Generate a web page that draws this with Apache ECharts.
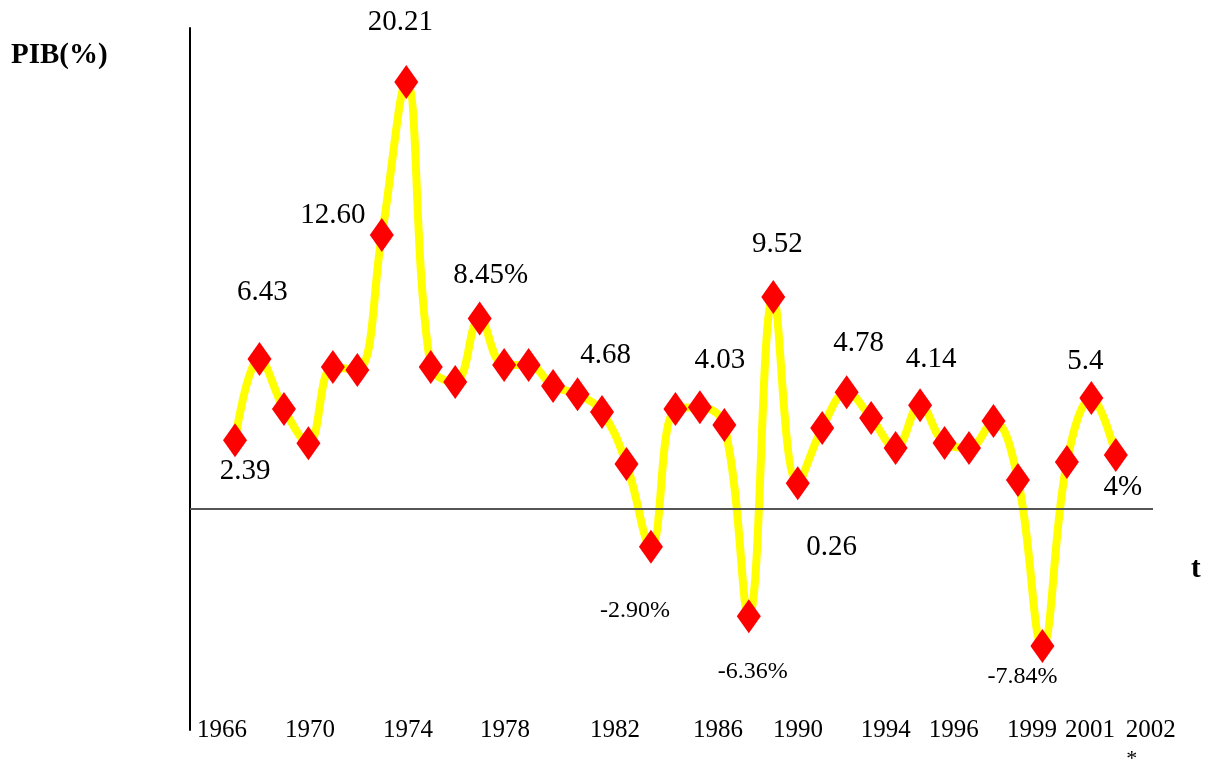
<!DOCTYPE html>
<html>
<head>
<meta charset="utf-8">
<script src="https://cdn.jsdelivr.net/npm/echarts@6/dist/echarts.min.js"></script>
<style>
html, body { margin: 0; padding: 0; background: #fff; }
#main { width: 1218px; height: 762px; }
</style>
</head>
<body>
<div id="main"></div>
<script>
// croissance du PIB (%) par année
var years = [1966,1967,1968,1969,1970,1971,1972,1973,1974,1975,1976,1977,1978,1979,1980,1981,1982,1983,1984,1985,1986,1987,1988,1989,1990,1991,1992,1993,1994,1995,1996,1997,1998,1999,2000,2001,2002];
var pib = [2.39,6.43,3.95,2.25,6.04,5.89,12.60,20.21,6.04,5.29,8.45,6.14,6.14,5.09,4.68,3.80,1.21,-2.90,3.95,4.03,3.15,-6.36,9.52,0.26,3.00,4.78,3.50,2.01,4.14,2.26,2.01,3.35,0.42,-7.84,1.31,4.50,1.66];
// étiquettes affichées sur certains points (index -> texte)
var pointLabels = {0:'2.39',1:'6.43',6:'12.60',7:'20.21',10:'8.45%',14:'4.68',17:'-2.90%',19:'4.03',21:'-6.36%',22:'9.52',23:'0.26',25:'4.78',28:'4.14',33:'-7.84%',35:'5.4',36:'4%'};
var axisYears = ['1966','1970','1974','1978','1982','1986','1990','1994','1996','1999','2001','2002'];

var serif = "'Times New Roman', 'Liberation Serif', serif";

// décalages des étiquettes par rapport au losange
var labelOffset = {0:[10,31],1:[3,-67],6:[-49,-20],7:[-6,-60],10:[11,-43],14:[28,-39],17:[-16,64],19:[20,-47],21:[4,55],22:[4,-53],23:[34,64],25:[12,-49],28:[11,-46],33:[-20,31],35:[-6,-37],36:[7,32]};
// position des années sous l'axe (placées à la main dans l'original)
var axisYearPos = [1965.47,1969.06,1973.07,1977.03,1981.53,1985.74,1989.01,1992.6,1995.38,1998.57,2000.94,2003.43];

var seriesData = years.map(function (y, i) {
	var item = { value: [y, pib[i]] };
	if (pointLabels[i] !== undefined) {
		var neg = pib[i] < 0;
		item.label = {
			show: true,
			position: 'inside',
			offset: labelOffset[i],
			formatter: pointLabels[i],
			fontFamily: serif,
			fontSize: neg ? 24 : 29,
			color: '#000'
		};
	}
	return item;
});

var option = {
	animation: false,
	backgroundColor: '#fff',
	title: [
		{
			text: 'PIB(%)',
			left: 11,
			top: 41,
			padding: 0,
			textStyle: { fontFamily: serif, fontWeight: 'bold', fontSize: 29, color: '#000' }
		},
		{
			text: 't',
			left: 1191,
			top: 555,
			padding: 0,
			textStyle: { fontFamily: serif, fontWeight: 'bold', fontSize: 29, color: '#000' }
		}
	],
	grid: { left: 190, right: 65, top: 28, bottom: 32, outerBoundsMode: 'none', containLabel: false },
	xAxis: {
		type: 'value',
		min: 1964.16,
		max: 2003.52,
		axisLine: { show: false },
		axisTick: { show: false },
		splitLine: { show: false },
		axisLabel: {
			customValues: axisYearPos,
			margin: -13,
			fontFamily: serif,
			fontSize: 25,
			color: '#000',
			lineHeight: 27,
			formatter: function (v) {
				var k = axisYearPos.indexOf(v);
				if (k < 0) return '';
				return axisYears[k] === '2002' ? '{y|2002}\n{s|*}' : axisYears[k];
			},
			rich: {
				y: { fontFamily: serif, fontSize: 25, lineHeight: 27, color: '#000' },
				s: { fontFamily: serif, fontSize: 22, lineHeight: 30, color: '#000', padding: [0, 38, 0, 0] }
			}
		}
	},
	yAxis: {
		type: 'value',
		min: -12.02,
		max: 22.9,
		axisLine: { show: true, lineStyle: { color: '#000', width: 2 } },
		axisTick: { show: false },
		axisLabel: { show: false },
		splitLine: { show: false }
	},
	series: [
		{
			type: 'line',
			data: seriesData,
			smooth: 0.4,
			symbol: 'diamond',
			symbolSize: [24, 34],
			itemStyle: { color: '#ff0000' },
			lineStyle: { color: '#ffff00', width: 8 },
			markLine: {
				silent: true,
				symbol: 'none',
				label: { show: false },
				lineStyle: { color: '#555', width: 2, type: 'solid' },
				data: [{ yAxis: -1.02 }]
			}
		}
	]
};

var myChart = echarts.init(document.getElementById('main'));
myChart.setOption(option);
</script>
</body>
</html>
